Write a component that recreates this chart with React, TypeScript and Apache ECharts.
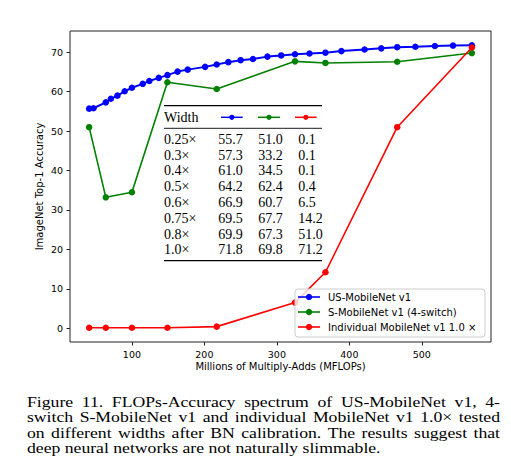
import React, { useEffect, useRef } from "react";
import * as echarts from "echarts";

// ---- data ----
const usFlops = [41, 47, 64, 71, 80, 90, 100, 115, 124, 137, 149, 163, 177, 201, 217, 233, 250, 267, 287, 306, 325, 345, 367, 389, 421, 444, 466, 491, 518, 543, 569];
const usAcc = [55.7, 55.8, 57.3, 58.2, 59.0, 60.1, 61.0, 62.0, 62.7, 63.5, 64.2, 65.1, 65.6, 66.3, 66.9, 67.5, 68.0, 68.3, 68.9, 69.2, 69.5, 69.7, 69.9, 70.3, 70.7, 71.0, 71.3, 71.4, 71.6, 71.7, 71.8];
const sFlops = [41, 64, 100, 149, 217, 325, 367, 466, 569];
const sAcc = [51.0, 33.2, 34.5, 62.4, 60.7, 67.7, 67.3, 67.6, 69.8];
const indFlops = [41, 64, 100, 149, 217, 325, 367, 466, 569];
const indAcc = [0.1, 0.1, 0.1, 0.1, 0.4, 6.5, 14.2, 51.0, 71.2];

const xTicks = [100, 200, 300, 400, 500];
const yTicks = [0, 10, 20, 30, 40, 50, 60, 70];

const seriesNames = ["US-MobileNet v1", "S-MobileNet v1 (4-switch)", "Individual MobileNet v1 1.0 ×"];
const seriesColors = ["#0000ff", "#008000", "#ff0000"];

const tableWidths = ["0.25×", "0.3×", "0.4×", "0.5×", "0.6×", "0.75×", "0.8×", "1.0×"];
const tableUS = [55.7, 57.3, 61.0, 64.2, 66.9, 69.5, 69.9, 71.8];
const tableS = [51.0, 33.2, 34.5, 62.4, 60.7, 67.7, 67.3, 69.8];
const tableInd = [0.1, 0.1, 0.1, 0.4, 6.5, 14.2, 51.0, 71.2];

const captionLines = [
  "Figure 11. FLOPs-Accuracy spectrum of US-MobileNet v1, 4-",
  "switch S-MobileNet v1 and individual MobileNet v1 1.0× tested",
  "on different widths after BN calibration. The results suggest that",
  "deep neural networks are not naturally slimmable.",
];

const SANS = "DejaVu Sans";
const SERIF = "Liberation Serif";

function measure(text: string, size: number, family: string): number {
  const c = document.createElement("canvas");
  const ctx = c.getContext("2d");
  if (!ctx) return text.length * size * 0.45;
  ctx.font = `${size}px "${family}"`;
  return ctx.measureText(text).width;
}

export default function App() {
  const ref = useRef<HTMLDivElement>(null);

  useEffect(() => {
    if (!ref.current) return;
    const chart = echarts.init(ref.current, undefined, { renderer: "svg" });

    const graphic: any[] = [];

    // axis titles
    graphic.push({
      type: "text", x: 39, y: 186.5, rotation: Math.PI / 2, z: 50,
      style: { text: "ImageNet Top-1 Accuracy", align: "center", verticalAlign: "middle", fontSize: 10, fontFamily: SANS, fill: "#000" },
    });
    graphic.push({
      type: "text", x: 280.5, y: 366, z: 50,
      style: { text: "Millions of Multiply-Adds (MFLOPs)", align: "center", verticalAlign: "middle", fontSize: 10, fontFamily: SANS, fill: "#000" },
    });

    // legend
    graphic.push({
      type: "rect", z: 100,
      shape: { x: 295, y: 289, width: 190, height: 48, r: 3 },
      style: { fill: "rgba(255,255,255,0.8)", stroke: "#cccccc", lineWidth: 1 },
    });
    seriesNames.forEach((name, i) => {
      const cy = 297 + i * 15;
      graphic.push({ type: "line", z: 101, shape: { x1: 298, y1: cy, x2: 320, y2: cy }, style: { stroke: seriesColors[i], lineWidth: 1.6 } });
      graphic.push({ type: "circle", z: 102, shape: { cx: 309, cy, r: 3.2 }, style: { fill: seriesColors[i] } });
      graphic.push({
        type: "text", x: 328, y: cy, z: 102,
        style: { text: name, fontSize: 10, fontFamily: SANS, fill: "#000", verticalAlign: "middle" },
      });
    });

    // table
    const tX1 = 164, tX2 = 322;
    const colX = [164, 218.3, 258.3, 298.3];
    const tFont = 14;
    graphic.push({ type: "line", z: 60, shape: { x1: tX1, y1: 105.7, x2: tX2, y2: 105.7 }, style: { stroke: "#000", lineWidth: 1.3 } });
    graphic.push({ type: "line", z: 60, shape: { x1: tX1, y1: 128.3, x2: tX2, y2: 128.3 }, style: { stroke: "#000", lineWidth: 0.9 } });
    graphic.push({ type: "line", z: 60, shape: { x1: tX1, y1: 260.7, x2: tX2, y2: 260.7 }, style: { stroke: "#000", lineWidth: 1.3 } });
    graphic.push({
      type: "text", x: colX[0], y: 117, z: 60,
      style: { text: "Width", fontSize: tFont, fontFamily: SERIF, fill: "#000", verticalAlign: "middle" },
    });
    const headerMarks = [[221, 242.7], [258, 280], [295, 316.7]];
    headerMarks.forEach(([a, b], i) => {
      graphic.push({ type: "line", z: 60, shape: { x1: a, y1: 117.3, x2: b, y2: 117.3 }, style: { stroke: seriesColors[i], lineWidth: 1.5 } });
      graphic.push({ type: "circle", z: 61, shape: { cx: (a + b) / 2, cy: 117.3, r: 2.6 }, style: { fill: seriesColors[i] } });
    });
    tableWidths.forEach((w, r) => {
      const cy = 139.3 + r * 15.8;
      const cells = [w, tableUS[r].toFixed(1), tableS[r].toFixed(1), tableInd[r].toFixed(1)];
      cells.forEach((t, c) => {
        graphic.push({
          type: "text", x: colX[c], y: cy, z: 60,
          style: { text: t, fontSize: tFont, fontFamily: SERIF, fill: "#000", verticalAlign: "middle" },
        });
      });
    });

    // caption (justified lines)
    const capSize = 15.5;
    const capLeft = 27, capRight = 500;
    const lastW = measure(captionLines[3], capSize, SERIF);
    const sx = lastW > 0 ? 353.7 / lastW : 1.14;
    captionLines.forEach((line, li) => {
      const cy = 402 + li * 15.3;
      if (li === captionLines.length - 1) {
        graphic.push({
          type: "text", x: capLeft, y: cy, scaleX: sx, z: 50,
          style: { text: line, fontSize: capSize, fontFamily: SERIF, fill: "#000", verticalAlign: "middle" },
        });
        return;
      }
      const words = line.split(/\s+/);
      const widths = words.map((w) => measure(w, capSize, SERIF) * sx);
      const total = widths.reduce((a, b) => a + b, 0);
      const gap = (capRight - capLeft - total) / (words.length - 1);
      let x = capLeft;
      words.forEach((w, wi) => {
        graphic.push({
          type: "text", x, y: cy, scaleX: sx, z: 50,
          style: { text: w, fontSize: capSize, fontFamily: SERIF, fill: "#000", verticalAlign: "middle" },
        });
        x += widths[wi] + gap;
      });
    });

    const mkSeries = (i: number, xs: number[], ys: number[], lw: number) => ({
      name: seriesNames[i],
      type: "line",
      data: xs.map((x, k) => [x, ys[k]]),
      symbol: "circle",
      symbolSize: 6.5,
      showSymbol: true,
      lineStyle: { color: seriesColors[i], width: lw },
      itemStyle: { color: seriesColors[i] },
      z: 3 + i,
    });

    chart.setOption({
      animation: false,
      backgroundColor: "#ffffff",
      grid: {
        left: 70, top: 31, width: 421, height: 311,
        show: true, borderColor: "#222", borderWidth: 1, backgroundColor: "transparent",
        containLabel: false, outerBoundsMode: "none",
      },
      xAxis: {
        type: "value", min: 14.6, max: 595.4,
        axisLine: { show: false, onZero: false },
        splitLine: { show: false },
        axisTick: { show: true, length: 3.5, lineStyle: { color: "#222" }, customValues: xTicks },
        axisLabel: { color: "#000", fontSize: 9.5, fontFamily: SANS, margin: 7, customValues: xTicks },
      },
      yAxis: {
        type: "value", min: -3.5, max: 75.4,
        axisLine: { show: false, onZero: false },
        splitLine: { show: false },
        axisTick: { show: true, length: 3.5, lineStyle: { color: "#222" }, customValues: yTicks },
        axisLabel: { color: "#000", fontSize: 9.5, fontFamily: SANS, margin: 7, customValues: yTicks },
      },
      series: [
        mkSeries(0, usFlops, usAcc, 2),
        mkSeries(1, sFlops, sAcc, 1.6),
        mkSeries(2, indFlops, indAcc, 1.6),
      ],
      graphic: { elements: graphic },
    });

    return () => chart.dispose();
  }, []);

  return (
    <div
      ref={ref}
      style={{ position: "absolute", left: 0, top: 0, width: 511, height: 475, background: "#fff" }}
    />
  );
}
